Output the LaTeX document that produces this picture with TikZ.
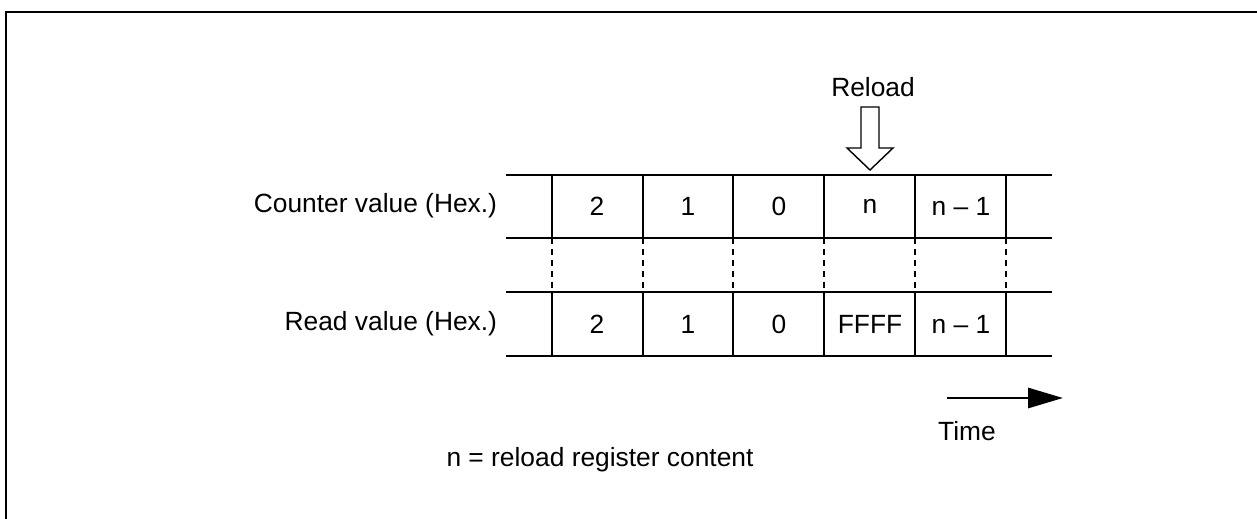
\documentclass[tikz,border=0pt]{standalone}
\usepackage{fontspec}
\setmainfont{Liberation Sans}
\usepackage{tikz}
\usetikzlibrary{arrows.meta, positioning}

\begin{document}
\begin{tikzpicture}[x=0.02cm, y=-0.02cm, line width=1.1pt,
  every node/.style={font=\fontsize{15}{18}\selectfont, inner sep=0pt}]
\useasboundingbox (0,0) rectangle (1257,519);

% Frame
\draw[line width=1.3pt] (6,519) -- (6,12) -- (1257,12);

% Rows
\foreach \y in {175, 238, 292, 356} {
    \draw (506,\y) -- (1052,\y);
}
\foreach \x in {552, 643, 733, 824, 915, 1006} {
    \draw (\x,175) -- (\x,238);
    \draw[dash pattern=on 3.4pt off 2.8pt, line width=0.7pt] (\x,238) -- (\x,292);
    \draw (\x,292) -- (\x,356);
}

% Labels
\node[anchor=east] (lblcnt) at (498,206) {Counter value (Hex.)};
\node[anchor=east] (lblrd) at (498,324) {Read value (Hex.)};

% Values
\foreach \i/\x/\c/\r in {1/597/2/2, 2/688/1/1, 3/779/0/0, 4/870/n/FFFF, 5/961/n – 1/n – 1} {
    \node (cnt\i) at (\x,206) {\c};
    \node (rd\i) at (\x,324) {\r};
}

% Reload
\node (reload) at (873,87) {Reload};
\draw[line width=0.8pt, fill=white] (861,107) -- (879,107) -- (879,148) -- (893,148)
    -- (870,170) -- (847,148) -- (861,148) -- cycle;

% Time
\coordinate (tstart) at (947,398);
\coordinate (tend) at (1063,398);
\draw[line width=1.7pt, -{Triangle[length=0.7cm, width=0.4cm]}] (tstart) -- (tend);
\node (time) at (967,431) {Time};

\node (note) at (600,460) {n = reload register content};
\end{tikzpicture}
\end{document}
